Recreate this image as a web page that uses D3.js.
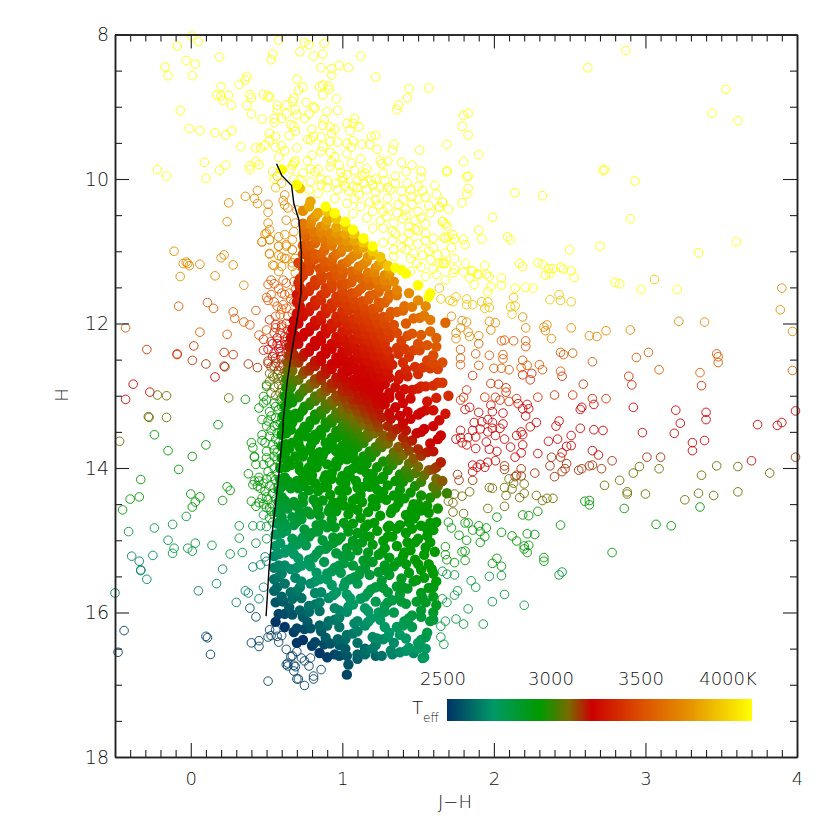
<!DOCTYPE html>
<html><head><meta charset="utf-8"><script src="https://cdn.jsdelivr.net/npm/d3@7"></script>
<style>html,body{margin:0;background:#fff}svg{display:block}text{font-family:"DejaVu Sans",sans-serif;font-weight:200;fill:#111}</style></head>
<body><svg id="c" width="830" height="830"></svg>
<script>
const xTicks=[0,1,2,3,4], yTicks=[8,10,12,14,16,18];
const teffStops=[2500,2730,2950,3000,3100,3230,3530,3790,4140];
const teffFracs=[0,.153,.304,.34,.40,.474,.65,.80,1];
const teffColors=["#003366","#009966","#009900","#2a8a00","#7a6a00","#cc0000","#dd5500","#e69500","#ffff00"];
const barLabels=["2500","3000","3500","4000K"];

const isoJH=[.566,.60,.665,.68,.714,.727,.73,.727,.708,.687,.665,.637,.61,.608,.578,.54,.516,.497];
const isoH=[9.79,9.95,10.09,10.34,10.57,10.95,11.0,11.59,11.86,12.14,12.41,12.79,13.34,13.48,14.16,14.85,15.4,16.05];

const openYellow=[1.69,9.90,1.82,9.97,1.83,10.13,1.82,10.21,1.79,10.33,2.14,10.19,2.32,10.23,2.73,9.87,2.93,10.03,1.66,10.32,1.64,10.39,1.99,10.53,2.90,10.55,1.66,10.59,1.69,10.65,1.90,10.71,1.67,10.81,1.70,10.80,1.73,10.77,1.74,10.83,1.80,10.84,1.81,10.91,1.92,10.83,2.09,10.80,2.11,10.84,3.60,10.87,2.50,10.98,2.70,10.93,3.35,11.02,1.68,11.03,1.66,11.17,1.67,11.17,1.81,11.17,1.94,11.20,2.17,11.17,2.19,11.21,2.29,11.16,2.32,11.18,2.44,11.22,2.36,11.24,2.39,11.24,2.46,11.25,2.51,11.27,2.53,11.36,2.34,11.33,2.37,11.31,1.74,11.25,1.73,11.30,1.80,11.29,1.85,11.27,1.86,11.27,1.84,11.37,1.89,11.32,1.90,11.32,1.95,11.32,1.97,11.35,2.05,11.37,1.87,11.46,1.98,11.49,2.05,11.47,2.14,11.51,2.21,11.50,2.26,11.51,1.96,11.56,2.97,11.53,3.21,11.53,2.80,11.43,2.83,11.45,
.006,8.02,-.09,8.16,.05,8.10,.58,8.08,.75,8.11,.78,8.14,.88,8.12,.72,8.24,.54,8.27,.53,8.35,.81,8.30,.87,8.27,1.12,8.30,.19,8.31,-.17,8.45,-.03,8.36,.03,8.41,-.15,8.57,.01,8.57,.86,8.46,.93,8.47,.98,8.43,1.04,8.46,.93,8.56,1.22,8.59,.37,8.58,.36,8.63,.32,8.69,.70,8.62,.20,8.72,.17,8.84,.20,8.85,.25,8.84,.21,8.91,.27,8.98,.39,8.83,.40,8.88,.37,8.98,.40,9.10,.48,8.83,.51,8.85,.52,8.87,.71,8.77,.74,8.73,.85,8.72,.87,8.70,.91,8.71,.91,8.76,.87,8.84,.96,8.89,1.44,8.75,1.57,8.74,1.43,8.88,1.37,8.98,1.36,9.04,
2.87,8.22,2.62,8.46,3.53,8.76,3.44,9.09,3.61,9.19,1.83,9.09,1.80,9.12,1.79,9.27,1.83,9.39,1.69,9.52,1.90,9.66,1.80,9.76,1.69,9.88,1.83,9.96,2.72,9.88,
-.07,9.05,.57,8.98,.63,8.97,.68,8.88,.67,8.93,.76,8.94,.81,9.0,.82,9.02,.57,9.04,.63,9.10,.69,9.04,.70,9.11,.75,9.16,.78,9.10,.90,9.07,.97,9.05,.55,9.16,.55,9.22,.60,9.16,.47,9.17,.88,9.18,.87,9.26,1.03,9.23,1.08,9.16,1.07,9.23,1.11,9.28,1.05,9.33,-.01,9.30,.06,9.33,.16,9.36,.23,9.39,.27,9.33,.66,9.25,.68,9.27,.69,9.34,.65,9.40,.80,9.31,.92,9.28,.95,9.31,.93,9.37,.52,9.37,.56,9.41,.81,9.41,.77,9.45,.79,9.46,.86,9.42,.92,9.48,.97,9.49,1.07,9.47,1.19,9.41,1.22,9.40,.52,9.46,.49,9.53,.46,9.57,.43,9.57,.33,9.55,.56,9.56,.60,9.54,.62,9.61,.70,9.57,.87,9.55,.86,9.62,1.03,9.51,1.06,9.56,1.13,9.52,1.18,9.52,1.23,9.59,1.34,9.52,1.33,9.60,1.03,9.65,1.51,9.60,.80,9.67,.95,9.69,.92,9.63,1.12,9.72,.58,9.70,.69,9.75,.77,9.75,.93,9.76,1.25,9.74,1.30,9.75,1.26,9.79,1.39,9.77,1.46,9.81,1.06,9.78,.09,9.77,-.22,9.87,-.16,9.96,.10,9.99,.19,9.88,.23,9.81,.39,9.82,.39,9.87,.45,9.80,.43,9.76,.67,9.81,.68,9.78,.66,9.86,.54,9.90,.79,9.86,.84,9.87,.82,9.90,.92,9.83,.98,9.81,1.16,9.85,1.27,9.92,1.52,9.89,1.52,9.98,1.35,9.96,1.03,9.94,.99,9.91,
.68,10.0,.72,10.01,.79,10.04,.55,10.0,.96,10.06,1.07,10.10,1.14,10.06,1.19,10.02,1.20,10.08,1.35,10.06,1.43,10.06,1.39,10.17,1.61,10.09,1.53,10.16,1.62,10.21,.97,10.15,1.04,10.17,1.11,10.22,1.22,10.29,1.30,10.27,1.24,10.36,1.46,10.24,1.46,10.35,1.57,10.37,1.66,10.32,1.64,10.39,.78,10.15,.84,10.20,.95,10.27,1.03,10.34,1.12,10.38,1.36,10.47,1.52,10.54,1.48,10.57,1.58,10.47,1.07,10.48,1.16,10.54,1.29,10.52,1.34,10.61,1.44,10.66,1.66,10.59,1.68,10.62,1.60,10.82,1.68,10.82,1.20,10.68,1.27,10.68,1.35,10.75,1.44,10.75,1.44,10.87,1.27,10.88,1.34,10.98,1.39,10.95,1.47,11.03,1.53,11.05,1.57,11.0,1.63,11.05,1.34,11.07,1.49,11.17,1.64,11.17,1.68,11.17,
.9,10.02,1.0,10.03,1.1,10.02,1.25,10.12,1.32,10.15,1.5,10.28,1.42,10.42,1.55,10.62,1.4,10.55,1.5,10.72,1.55,10.85,1.42,10.98,1.6,11.25,1.58,11.12,1.52,11.22,1.45,11.1,1.72,10.95,1.62,11.32,
1.0,9.98,.86,10.0,1.13,9.96,1.22,10.0,1.28,10.03,1.42,9.9,1.08,9.88,1.15,9.92,.74,9.92,1.3,10.12,1.45,10.15,1.16,10.15,1.08,10.27,1.18,10.32,1.2,10.45,1.3,10.4,1.4,10.28,1.37,10.35,1.5,10.45,1.42,10.5,1.25,10.58,1.33,10.72,1.4,10.82,1.5,10.9,1.33,10.85,1.48,10.7,1.55,10.75,1.6,10.95,1.27,10.45,1.02,10.1,1.1,10.12,.9,10.12,.86,10.08,1.22,10.18,1.55,10.25,1.7,10.42,1.45,11.28,1.55,11.35,1.68,11.4,1.74,11.1,1.5,10.1];

const openYellowOrange=[3.06,11.39,1.64,11.51,1.65,11.66,1.71,11.68,1.73,11.70,1.75,11.63,1.82,11.66,1.82,11.74,1.86,11.74,1.92,11.70,1.96,11.70,1.94,11.79,1.97,11.78,2.13,11.64,2.11,11.77,2.14,11.76,2.12,11.87,2.37,11.67,2.43,11.60,2.44,11.68,2.51,11.70,.57,9.96,.6,10.06,.56,10.12];

const openOrange=[3.90,11.51,1.72,11.90,2.19,11.91,1.79,11.96,1.82,11.98,1.97,11.97,2.01,11.99,1.78,12.06,1.98,12.09,1.75,12.13,1.83,12.12,1.84,12.18,1.75,12.21,1.90,12.17,2.21,12.06,2.35,12.02,2.33,12.05,2.34,12.10,2.51,12.06,2.38,12.21,2.63,12.17,2.68,12.18,2.74,12.10,2.90,12.09,3.22,11.97,3.39,11.98,3.97,12.11,3.89,11.81,
.36,10.24,.44,10.16,.42,10.27,.44,10.34,.25,10.33,.51,10.35,.51,10.46,.24,10.59,.62,10.22,.61,10.30,.62,10.36,.64,10.40,.70,10.43,.63,10.57,.69,10.61,.51,10.61,.50,10.75,.52,10.70,.47,10.87,.52,10.84,.58,10.80,.62,10.77,.67,10.84,.68,10.73,.58,10.93,.52,11.04,.58,11.06,.62,11.10,.67,10.98,.69,11.10,.63,10.93,
-.11,11.00,-.05,11.17,-.03,11.15,-.02,11.17,-.01,11.20,.06,11.18,.20,11.09,.22,11.05,.28,11.19,-.07,11.35,.16,11.34,.35,11.47,.47,10.87,.49,10.76,.52,10.84,.52,11.03,.58,10.93,.63,10.91,.60,11.08,.67,10.98,.63,11.10,.67,11.16,.54,11.19,.58,11.28,.69,11.30,.55,11.20,.60,11.21,.67,11.21];

const openOrangeRed=[1.90,12.28,2.05,12.24,2.07,12.23,2.13,12.24,2.21,12.24,2.21,12.32,1.78,12.36,1.88,12.42,1.97,12.44,2.06,12.43,2.06,12.49,1.78,12.48,1.78,12.57,1.90,12.58,2.19,12.51,2.00,12.62,2.05,12.62,2.10,12.64,2.18,12.61,2.22,12.58,2.30,12.57,2.32,12.64,2.44,12.40,2.46,12.43,2.52,12.41,2.65,12.53,2.44,12.66,2.94,12.47,3.02,12.40,3.09,12.64,3.36,12.68,3.47,12.42,3.48,12.46,3.48,12.54,3.97,12.65,
-.08,11.76,.11,11.71,.15,11.79,.28,11.84,.29,11.93,.43,11.82,.35,11.98,.39,12.02,-.43,12.06,.06,12.12,.24,12.15,.45,12.16,.50,12.09,.53,11.40,.51,11.46,.61,11.40,.63,11.44,.68,11.42,.60,11.58,.50,11.64,.51,11.68,.57,11.76,.65,11.58,.68,11.70,.63,11.79,.67,11.86,.59,11.88,.69,11.53,.61,11.74,
.55,11.45,.58,11.52,.62,11.6,.66,11.66,.55,11.7,.6,11.8,.64,11.9,.56,11.9,.53,11.6];

const openRedOrange=[1.86,12.72,2.19,12.71,2.25,12.69,2.24,12.78,2.45,12.73,2.89,12.73,2.91,12.85,3.37,12.86,2.59,12.84,1.98,12.83,2.03,12.84,2.08,12.89,2.08,12.95,1.82,12.92,1.94,13.02,2.01,13.02,1.80,13.02,1.78,13.06,2.04,13.06,2.10,13.08,2.15,13.04,2.29,13.02,2.40,12.99,2.52,12.99,2.65,13.04,2.74,13.04,
.02,12.31,-.29,12.36,-.09,12.42,-.09,12.43,.01,12.51,.22,12.40,.28,12.43,.48,12.22,.48,12.37,.56,12.01,.60,12.02,.63,12.0,.55,12.13,.59,12.13,.64,12.09,.68,12.04,
.52,11.95,.66,12.12,.6,12.05,.56,12.06,.53,12.25,.69,12.0,.64,12.2];

const openRed=[1.98,13.13,2.16,13.11,2.22,13.12,2.19,13.18,2.23,13.18,2.66,13.12,2.58,13.16,2.57,13.19,2.92,13.16,3.20,13.20,3.40,13.23,3.99,13.21,2.06,13.24,1.90,13.23,1.84,13.16,1.81,13.19,1.99,13.22,2.21,13.28,3.40,13.33,3.23,13.38,3.74,13.40,3.87,13.41,3.90,13.37,2.43,13.35,2.41,13.42,2.57,13.45,2.66,13.47,2.72,13.48,2.98,13.51,3.19,13.52,2.28,13.37,2.24,13.43,2.51,13.55,2.18,13.50,2.15,13.55,2.19,13.54,2.36,13.63,2.42,13.60,2.19,13.68,2.07,13.60,2.11,13.71,2.51,13.69,2.48,13.70,2.45,13.79,2.18,13.79,2.29,13.80,2.14,13.85,2.02,13.77,1.97,13.74,1.88,13.73,1.95,13.64,3.31,13.65,3.39,13.62,3.31,13.76,2.65,13.76,2.69,13.82,3.70,13.90,1.87,13.37,1.92,13.36,1.96,13.33,1.99,13.37,2.06,13.39,2.04,13.45,1.99,13.45,1.96,13.50,1.91,13.46,1.86,13.48,1.78,13.48,2.01,13.55,1.88,13.57,1.83,13.58,1.78,13.58,1.79,13.65,1.82,13.68,1.75,13.60,2.01,13.90,1.96,13.92,1.91,13.95,1.86,13.96,1.89,13.99,1.94,13.99,1.86,14.05,
.16,12.74,-.38,12.84,-.27,12.95,-.43,13.05,.57,12.20,.62,12.18,.67,12.18,.59,12.30,.63,12.30,.68,12.25,.51,12.36,.55,12.41,.59,12.39,.63,12.41,.67,12.34,
.54,12.28,.58,12.35,.62,12.25,.66,12.42,.6,12.45,.54,12.46,.57,12.28,.65,12.27];

const openRedBrown=[2.38,13.85,2.44,13.85,2.48,13.94,2.37,13.97,2.47,14.01,2.45,14.05,2.18,14.01,2.07,13.97,2.07,14.02,2.27,14.07,2.40,14.12,2.15,14.10,2.18,14.11,2.14,14.12,1.86,14.17,1.76,14.09,1.77,14.17,2.56,14.03,2.58,14.01,2.63,13.97,2.65,13.96,2.71,14.01,2.78,13.90,3.01,13.85,3.10,13.85,3.99,13.85,
.10,12.56,.22,12.59,.225,12.6,.38,12.56,.44,12.61,.51,12.55,.56,12.48,.60,12.50,.63,12.52,.51,12.52,.55,12.59,.59,12.59,.62,12.64,.53,12.6,.58,12.65,.64,12.62,.56,12.55,.61,12.58];

const openOlive=[2.96,13.98,2.92,14.07,3.09,14.01,2.83,14.17,2.73,14.24,3.47,13.97,3.61,13.98,3.37,14.10,3.82,14.07,2.20,14.22,2.10,14.15,2.13,14.21,2.07,14.27,2.12,14.29,1.97,14.27,1.99,14.28,2.20,14.35,2.08,14.38,2.17,14.41,1.84,14.33,1.79,14.39,1.74,14.36,1.70,14.46,1.73,14.48,2.28,14.38,2.32,14.45,2.35,14.42,2.39,14.42,2.07,14.53,1.96,14.56,1.73,14.61,1.80,14.63,2.88,14.33,2.88,14.36,3.00,14.36,3.45,14.38,3.61,14.33,3.35,14.35,3.26,14.44,
-.22,12.99,-.16,13.00,-.28,13.29,-.275,13.3,-.16,13.30,.52,12.69,.57,12.71,.60,12.73,.54,12.73,.50,12.85,.52,12.80,.58,12.85,.62,12.82,.59,12.96,.53,12.96,.25,13.03,-.47,13.63,.55,12.75,.61,12.78,.58,12.76,.55,12.88,.6,12.9,.56,13.0,.62,12.95,.6,13.02];

const openGreen=[2.60,14.46,2.63,14.45,2.63,14.51,2.86,14.56,3.36,14.54,3.07,14.78,3.17,14.80,2.29,14.60,2.19,14.65,2.23,14.66,2.02,14.68,2.44,14.79,1.95,14.83,1.90,14.80,1.86,14.86,1.91,14.88,1.94,14.95,1.81,14.76,1.83,14.76,1.70,14.75,1.72,14.83,1.77,14.93,1.82,15.00,1.91,15.03,2.05,14.89,2.12,14.94,2.15,15.01,2.22,14.91,2.27,14.92,2.23,15.07,2.20,15.08,2.20,15.12,2.22,15.17,2.78,15.17,2.33,15.24,2.33,15.29,1.68,15.09,1.68,15.20,1.69,15.27,1.79,15.16,1.81,15.15,1.81,15.28,1.74,15.31,2.02,15.25,1.99,15.32,2.05,15.36,
.36,13.05,.45,13.17,.18,13.40,-.24,13.54,-.15,13.76,.10,13.68,.01,13.84,.40,13.65,.41,13.72,.47,13.54,.47,13.62,.42,13.85,.47,13.33,.50,13.06,.48,13.01,.48,13.10,.50,12.87,.55,13.10,.59,13.06,.58,13.19,.52,13.22,.56,13.31,.51,13.35,.59,13.38,.55,13.42,.50,13.42,.57,13.52,.52,13.56,.49,13.65,.58,13.65,.55,13.75,.50,13.77,.57,13.79,.42,13.84,.50,13.86,.55,13.84,.43,13.95,.51,14.05,.55,14.0,.45,14.18,.48,14.21,.52,14.25,.56,14.16,.49,14.32,.54,14.35,.51,14.44,.54,14.51,-.33,14.16,-.34,14.40,-.40,14.43,-.08,14.02,.00,14.36,.06,14.40,.03,14.47,.24,14.26,.26,14.31,.21,14.45,.40,14.46,.38,14.08,.41,14.23,.42,14.18,.45,14.13,.50,14.55,.53,14.60,.52,14.69,.43,14.53,.45,14.48,.01,14.54,-.45,14.58,
.6,13.15,.56,13.15,.53,13.28,.6,13.3,.57,13.4,.53,13.48,.6,13.5,.56,13.6,.6,13.7,.54,13.68,.57,13.88,.52,13.92,.59,13.95,.48,13.95,.53,14.12,.57,14.08,.5,14.15,.58,14.25,.55,14.28,.5,14.4,.46,14.28,.56,14.43,.48,14.5,.52,14.55,.55,14.65,.47,14.42,.44,14.25,.54,14.75];

const openGreenTeal=[1.66,15.43,1.69,15.47,1.74,15.48,1.97,15.50,2.05,15.49,2.43,15.48,2.45,15.44,1.85,15.56,1.88,15.65,1.76,15.70,1.74,15.76,1.66,15.81,1.69,15.86,2.07,15.75,1.99,15.85,2.20,15.90,1.83,15.95,1.75,16.09,1.68,16.12,1.65,16.19,1.80,16.16,1.93,16.16,1.65,16.34,1.67,16.44,
-.03,14.67,.48,14.65,-.41,14.88,-.24,14.83,-.12,14.78,.32,14.80,.41,14.80,.46,14.80,.50,14.81,-.15,15.00,-.11,15.11,-.12,15.18,-.02,15.11,.01,15.15,.03,15.04,.14,15.07,.32,14.97,.43,15.04,.50,14.98,.26,15.19,.34,15.17];

const openTeal=[-.39,15.22,-.34,15.29,-.25,15.21,-.33,15.41,-.33,15.42,-.29,15.54,.21,15.40,.41,15.37,.46,15.34,.49,15.23,.50,15.29,.17,15.60,.05,15.70,.48,15.65,-.50,15.73,.36,15.70,.38,15.73,.45,15.81,.30,15.86];

const openBlue=[.39,15.94,.43,16.06,-.44,16.25,-.48,16.55,.10,16.33,.11,16.35,.13,16.58,.40,16.42,.45,16.39,.45,16.47,.51,16.95,.52,16.24,.51,16.34,.56,16.24,.57,16.33,.53,16.32,.60,16.32,.58,16.41,.63,16.51,.70,16.54,.66,16.61,.64,16.70,.64,16.74,.68,16.73,.68,16.81,.70,16.92,.67,16.60,.73,16.63,.79,16.63,.63,16.72,.69,16.75,.78,16.74,.86,16.79,.71,16.92,.75,17.01,.81,16.88,.81,16.92,.75,16.67];

const openGroups=[[4140,openYellow],[3950,openYellowOrange],[3750,openOrange],[3550,openOrangeRed],[3400,openRedOrange],[3240,openRed],[3170,openRedBrown],[3085,openOlive],[2950,openGreen],[2820,openGreenTeal],[2680,openTeal],[2530,openBlue]];

const filledTeff=[4140,3950,3850,3750,3680,3600,3550,3500,3460,3420,3380,3340,3300,3270,3245,3230,3220,3195,3160,3120,3070,3020,2980,2960,2955,2950,2950,2950,2950,2945,2920,2895,2870,2840,2810,2780,2750,2730,2700,2670,2640,2610,2575,2540,2510];
const filledStars=[
[.60,9.87,.70,10.08,.89,10.38,.95,10.47,1.02,10.59,1.07,10.70,1.14,10.82,1.20,10.93,1.35,11.23,1.39,11.26,1.42,11.31,1.50,11.47,1.58,11.58,1.57,11.63],
[.72,10.13,.90,10.45,.96,10.55,1.02,10.65,1.08,10.76,1.14,10.88,1.20,11.0,1.25,11.08,1.30,11.2],
[.79,10.31,.78,10.38,.84,10.47,.90,10.57,.96,10.67,1.02,10.76,1.08,10.86,1.14,10.95,1.20,11.05,1.26,11.15,1.32,11.24],
[.74,10.44,.80,10.56,.86,10.66,.92,10.75,.98,10.85,1.04,10.94,1.10,11.04,1.16,11.14,1.22,11.23,1.28,11.33,1.34,11.42,1.44,11.58,1.50,11.68,1.55,11.76],
[.75,10.63,.81,10.73,.87,10.82,.93,10.92,.99,11.01,1.05,11.11,1.11,11.21,1.17,11.30,1.23,11.40,1.29,11.49,1.36,11.61,1.46,11.77,1.54,11.89,1.58,11.95],
[.76,10.8,.82,10.89,.88,10.99,.94,11.08,1.00,11.18,1.06,11.28,1.12,11.37,1.18,11.47,1.24,11.56,1.30,11.66,1.40,11.82,1.47,11.93,1.58,12.11,1.68,11.99],
[.76,10.95,.82,11.04,.88,11.14,.94,11.23,1.0,11.33,1.06,11.43,1.12,11.52,1.18,11.62,1.24,11.71,1.32,11.84,1.42,12.0,1.52,12.16,1.62,12.32],
[.78,11.13,.85,11.24,.92,11.35,.99,11.46,1.06,11.58,1.13,11.69,1.20,11.8,1.27,11.91,1.34,12.02,1.43,12.17,1.50,12.28,1.60,12.44,1.66,12.54],
[.71,11.16,.78,11.27,.86,11.4,.93,11.51,1.01,11.64,1.08,11.75,1.15,11.86,1.23,11.99,1.30,12.1,1.39,12.24,1.47,12.37,1.56,12.51,1.63,12.63],
[.74,11.34,.82,11.47,.89,11.58,.97,11.71,1.04,11.82,1.11,11.94,1.19,12.06,1.26,12.18,1.36,12.34,1.44,12.46,1.53,12.61,1.66,12.82],
[.71,11.44,.78,11.55,.86,11.68,.93,11.79,1.01,11.92,1.08,12.03,1.15,12.14,1.23,12.27,1.3,12.38,1.40,12.54,1.50,12.7,1.6,12.86,1.7,13.0],
[.74,11.62,.82,11.75,.89,11.86,.97,11.99,1.04,12.1,1.11,12.22,1.19,12.34,1.26,12.46,1.33,12.57,1.43,12.73,1.52,12.87,1.62,13.03],
[.70,11.7,.78,11.83,.86,11.96,.93,12.07,1.01,12.2,1.08,12.31,1.15,12.42,1.23,12.55,1.3,12.66,1.37,12.77,1.46,12.92,1.56,13.08,1.68,13.25],
[.70,11.86,.74,11.9,.82,12.03,.89,12.14,.97,12.27,1.04,12.38,1.11,12.5,1.19,12.62,1.26,12.74,1.35,12.88,1.45,13.04,1.55,13.2,1.64,13.34],
[.68,11.96,.71,12.0,.78,12.11,.86,12.24,.93,12.35,1.01,12.48,1.08,12.59,1.15,12.7,1.23,12.83,1.31,12.96,1.40,13.1,1.5,13.26,1.6,13.42],
[.67,12.08,.74,12.18,.82,12.31,.89,12.42,.97,12.55,1.04,12.66,1.11,12.78,1.19,12.9,1.26,13.02,1.35,13.16,1.45,13.32,1.54,13.46,1.63,13.6],
[.66,12.2,.71,12.28,.78,12.39,.86,12.52,.93,12.63,1.01,12.76,1.08,12.87,1.15,12.98,1.23,13.11,1.31,13.24,1.40,13.38,1.49,13.52,1.58,13.66],
[.65,12.32,.74,12.46,.82,12.59,.89,12.7,.97,12.83,1.04,12.94,1.11,13.06,1.19,13.18,1.26,13.3,1.36,13.46,1.46,13.62,1.56,13.78,1.65,13.92],
[.65,12.44,.71,12.54,.78,12.65,.86,12.78,.93,12.89,1.01,13.02,1.08,13.13,1.15,13.24,1.23,13.37,1.33,13.53,1.42,13.67,1.52,13.83,1.62,13.99],
[.64,12.54,.74,12.7,.82,12.83,.89,12.94,.97,13.07,1.04,13.18,1.12,13.31,1.19,13.42,1.27,13.55,1.37,13.71,1.47,13.87,1.57,14.03,1.66,14.18],
[.64,12.66,.71,12.78,.78,12.89,.86,13.02,.93,13.13,1.01,13.26,1.08,13.37,1.17,13.51,1.25,13.64,1.34,13.78,1.44,13.94,1.54,14.1,1.63,14.25],
[.63,12.77,.67,12.83,.74,12.94,.82,13.07,.89,13.18,.97,13.31,1.05,13.44,1.13,13.57,1.22,13.71,1.32,13.87,1.42,14.03,1.52,14.19,1.62,14.35,1.69,14.35],
[.63,12.89,.71,13.02,.78,13.13,.86,13.26,.93,13.37,1.01,13.5,1.09,13.63,1.18,13.77,1.27,13.91,1.38,14.09,1.48,14.25,1.58,14.41],
[.62,13.01,.67,13.09,.74,13.2,.82,13.33,.89,13.44,.97,13.57,1.05,13.7,1.14,13.84,1.23,13.99,1.35,14.18,1.45,14.34,1.56,14.52],
[.62,13.15,.71,13.3,.78,13.41,.86,13.54,.93,13.65,1.02,13.79,1.11,13.94,1.2,14.08,1.3,14.24,1.41,14.42,1.52,14.59,1.62,14.75],
[.61,13.28,.67,13.37,.74,13.48,.82,13.61,.9,13.74,.98,13.87,1.07,14.01,1.17,14.17,1.27,14.33,1.37,14.49,1.48,14.67,1.6,14.86],
[.61,13.42,.71,13.58,.79,13.7,.87,13.83,.96,13.98,1.05,14.12,1.14,14.26,1.24,14.42,1.33,14.57,1.44,14.75,1.56,14.94],
[.6,13.54,.67,13.65,.75,13.78,.84,13.92,.93,14.07,1.02,14.21,1.12,14.37,1.22,14.53,1.38,14.79,1.5,14.98,1.61,15.16],
[.6,13.7,.69,13.84,.78,13.99,.88,14.15,.98,14.31,1.07,14.45,1.17,14.61,1.3,14.82,1.43,15.03,1.54,15.2],
[.6,13.86,.66,13.96,.74,14.08,.82,14.21,.92,14.37,1.01,14.52,1.12,14.69,1.23,14.87,1.36,15.08,1.48,15.27,1.6,15.46],
[.59,14.0,.7,14.18,.78,14.31,.87,14.45,.96,14.6,1.07,14.77,1.18,14.95,1.28,15.11,1.42,15.33,1.54,15.52],
[.59,14.16,.66,14.28,.74,14.4,.84,14.56,.93,14.71,1.04,14.88,1.13,15.03,1.24,15.2,1.34,15.36,1.47,15.57,1.6,15.78],
[.58,14.31,.68,14.47,.79,14.64,.9,14.82,.99,14.96,1.1,15.14,1.2,15.3,1.31,15.48,1.43,15.67,1.55,15.86],
[.58,14.47,.64,14.56,.73,14.71,.84,14.88,.94,15.04,1.05,15.22,1.15,15.38,1.26,15.56,1.38,15.75,1.52,15.97],
[.57,14.61,.68,14.79,.78,14.95,.89,15.12,1.01,15.32,1.11,15.48,1.22,15.65,1.33,15.83,1.46,16.04,1.6,16.1],
[.57,14.77,.63,14.87,.72,15.01,.83,15.19,.95,15.38,1.05,15.54,1.17,15.73,1.28,15.91,1.41,16.12,1.55,16.34],
[.56,14.92,.67,15.09,.78,15.27,.9,15.46,1.01,15.64,1.12,15.81,1.24,16.0,1.36,16.2,1.5,16.42,1.54,16.62],
[.56,15.08,.62,15.17,.73,15.35,.85,15.54,.96,15.72,1.07,15.89,1.19,16.08,1.31,16.28,1.44,16.49],
[.55,15.22,.66,15.4,.79,15.6,.91,15.8,1.03,15.99,1.15,16.18,1.27,16.37,1.38,16.55,1.53,16.63],
[.55,15.38,.6,15.46,.72,15.65,.85,15.86,.98,16.07,1.1,16.26,1.22,16.45,1.33,16.58],
[.55,15.54,.66,15.72,.78,15.91,.91,16.12,1.03,16.31,1.16,16.52,1.26,16.6],
[.55,15.7,.6,15.78,.72,15.97,.85,16.18,.97,16.37,1.1,16.58,1.22,16.6],
[.56,15.86,.67,16.03,.79,16.22,.92,16.43,1.03,16.6,1.04,16.72],
[.58,16.02,.7,16.22,.82,16.41,.95,16.58,1.03,16.86],
[.56,16.13,.62,16.2,.74,16.38,.85,16.56,.7,16.42]];

const infillTeff=[3800,3720,3640,3575,3525,3480,3440,3400,3360,3320,3285,3255,3235,3225,3205,3180,3140,3095,3045,3000,2970,2958,2952,2950,2950,2950,2948,2932,2908,2882,2855,2825,2795,2765,2740,2715,2685,2655,2625,2590,2555,2525];
const infillStars=[
[.82,10.52,.89,10.63,.96,10.75,1.03,10.86,1.10,10.97,1.17,11.08,1.24,11.19,1.31,11.31],
[.79,10.62,.86,10.74,.93,10.85,1.0,10.96,1.07,11.07,1.14,11.18,1.21,11.3,1.28,11.41,1.36,11.54],
[.75,10.7,.82,10.81,.89,10.92,.96,11.04,1.03,11.15,1.10,11.26,1.17,11.37,1.24,11.48,1.31,11.6,1.41,11.76,1.51,11.92],
[.79,10.92,.86,11.04,.93,11.15,1.0,11.26,1.07,11.37,1.14,11.48,1.21,11.6,1.28,11.71,1.36,11.84,1.62,12.2],
[.78,11.02,.82,11.11,.89,11.22,.96,11.34,1.03,11.45,1.10,11.56,1.17,11.67,1.24,11.78,1.31,11.9,1.46,12.14,1.56,12.3],
[.79,11.21,.86,11.33,.93,11.44,1.0,11.55,1.07,11.66,1.14,11.77,1.21,11.89,1.28,12.0,1.36,12.13,1.51,12.37,1.60,12.55],
[.75,11.29,.82,11.4,.89,11.51,.96,11.63,1.03,11.74,1.10,11.85,1.17,11.96,1.24,12.07,1.31,12.19,1.41,12.35,1.58,12.62],
[.72,11.38,.79,11.49,.86,11.61,.93,11.72,1.0,11.83,1.07,11.94,1.14,12.05,1.21,12.17,1.28,12.28,1.37,12.42,1.48,12.6,1.63,12.82],
[.75,11.57,.82,11.68,.89,11.79,.96,11.91,1.03,12.02,1.10,12.13,1.17,12.24,1.24,12.35,1.31,12.47,1.42,12.64,1.55,12.87],
[.72,11.66,.79,11.77,.86,11.89,.93,12.0,1.0,12.11,1.07,12.22,1.14,12.33,1.21,12.45,1.28,12.56,1.38,12.71,1.5,12.9],
[.75,11.85,.82,11.96,.89,12.07,.96,12.19,1.03,12.3,1.10,12.41,1.17,12.52,1.24,12.63,1.31,12.75,1.41,12.91,1.6,13.2],
[.70,11.93,.79,12.05,.86,12.17,.93,12.28,1.0,12.39,1.07,12.5,1.14,12.61,1.21,12.73,1.28,12.84,1.38,13.0,1.52,13.23],
[.75,12.13,.82,12.24,.89,12.35,.96,12.47,1.03,12.58,1.10,12.69,1.17,12.8,1.24,12.91,1.31,13.03,1.43,13.22,1.65,13.55],
[.69,12.17,.79,12.33,.86,12.45,.93,12.56,1.0,12.67,1.07,12.78,1.14,12.89,1.21,13.01,1.28,13.12,1.38,13.28,1.52,13.5],
[.68,12.3,.75,12.41,.82,12.52,.89,12.63,.96,12.75,1.03,12.86,1.10,12.97,1.17,13.08,1.24,13.19,1.32,13.32,1.42,13.48,1.6,13.77],
[.68,12.43,.79,12.6,.86,12.72,.93,12.83,1.0,12.94,1.07,13.05,1.14,13.16,1.21,13.28,1.3,13.42,1.4,13.58,1.5,13.74],
[.67,12.53,.75,12.66,.82,12.77,.89,12.88,.96,13.0,1.03,13.11,1.10,13.22,1.17,13.33,1.24,13.44,1.32,13.57,1.44,13.76,1.6,14.02],
[.67,12.65,.79,12.84,.86,12.96,.93,13.07,1.0,13.18,1.07,13.29,1.14,13.4,1.21,13.52,1.3,13.66,1.4,13.82,1.5,13.98,1.62,14.15],
[.66,12.76,.75,12.9,.82,13.01,.89,13.12,.96,13.24,1.03,13.35,1.10,13.46,1.17,13.57,1.26,13.71,1.37,13.89,1.48,14.07,1.6,14.26],
[.66,12.89,.72,12.98,.79,13.09,.86,13.21,.93,13.32,1.0,13.43,1.07,13.54,1.14,13.65,1.22,13.78,1.33,13.96,1.44,14.13],
[.65,13.0,.75,13.15,.82,13.26,.89,13.37,.96,13.49,1.03,13.6,1.10,13.71,1.19,13.85,1.3,14.03,1.4,14.19,1.52,14.38,1.63,14.56],
[.64,13.12,.72,13.24,.79,13.35,.86,13.47,.93,13.58,1.0,13.69,1.07,13.8,1.16,13.94,1.27,14.12,1.38,14.3,1.5,14.5],
[.64,13.26,.75,13.43,.82,13.54,.89,13.65,.96,13.77,1.03,13.88,1.12,14.02,1.22,14.18,1.34,14.38,1.46,14.57,1.58,14.76],
[.63,13.38,.72,13.52,.80,13.65,.88,13.78,.96,13.91,1.04,14.04,1.18,14.26,1.29,14.44,1.42,14.65,1.52,14.8],
[.63,13.52,.71,13.65,.81,13.81,.9,13.95,1.0,14.11,1.1,14.27,1.2,14.43,1.32,14.62,1.46,14.84,1.58,15.03],
[.63,13.67,.74,13.84,.83,13.99,.93,14.15,1.03,14.31,1.13,14.47,1.25,14.66,1.36,14.84,1.48,15.03],
[.62,13.81,.71,13.96,.8,14.1,.9,14.26,1.0,14.42,1.1,14.58,1.21,14.76,1.33,14.95,1.45,15.14,1.57,15.33],
[.63,13.99,.74,14.16,.84,14.32,.94,14.48,1.04,14.64,1.15,14.82,1.27,15.01,1.4,15.22,1.52,15.41,1.62,15.57],
[.62,14.13,.71,14.28,.81,14.44,.91,14.6,1.01,14.76,1.1,14.9,1.2,15.06,1.31,15.24,1.44,15.45,1.57,15.66],
[.6,14.26,.74,14.48,.85,14.66,.95,14.82,1.07,15.01,1.17,15.17,1.28,15.35,1.39,15.53,1.52,15.73,1.62,15.9],
[.62,14.45,.72,14.61,.83,14.79,.94,14.96,1.03,15.11,1.14,15.28,1.24,15.44,1.36,15.64,1.49,15.85,1.6,16.0],
[.6,14.58,.7,14.74,.8,14.9,.91,15.08,1.0,15.22,1.12,15.42,1.27,15.66,1.39,15.85,1.52,16.06],
[.62,14.77,.74,14.96,.85,15.14,.98,15.35,1.08,15.51,1.19,15.68,1.3,15.86,1.44,16.08,1.56,16.28],
[.6,14.90,.7,15.06,.81,15.24,.93,15.43,1.02,15.58,1.15,15.78,1.28,15.99,1.4,16.18,1.52,16.38],
[.59,15.04,.68,15.19,.79,15.36,.9,15.54,1.03,15.75,1.15,15.94,1.25,16.1,1.38,16.31,1.5,16.5],
[.58,15.19,.7,15.38,.82,15.57,.94,15.76,1.04,15.92,1.17,16.13,1.3,16.34,1.42,16.53],
[.58,15.35,.69,15.52,.82,15.73,.95,15.94,1.08,16.15,1.2,16.34,1.32,16.53],
[.58,15.51,.7,15.7,.82,15.89,.95,16.1,1.07,16.29,1.2,16.5],
[.57,15.65,.67,15.81,.78,15.99,.9,16.18,1.02,16.37,1.15,16.58],
[.61,15.85,.74,16.06,.86,16.26,.98,16.45,1.1,16.64],
[.62,16.02,.75,16.23,.88,16.44,.98,16.6],
[.68,16.27,.8,16.46,.9,16.62]];

const gapTeff=[3600,3550,3500,3440,3360,3290,2955,2950,2950,2948,2910,2870,2825,2785,2735,2695,2645,2590];
const gapStars=[
[.74,10.62,.75,10.78],[.74,10.92],[.74,11.04],[.74,11.22],[.72,11.5],[.72,11.76,.7,11.6],
[.69,13.25,.77,13.44,.85,13.5,.94,13.72,1.08,13.88,1.16,14.07,1.26,14.15,1.36,14.38,1.47,14.5,1.57,14.62],
[.66,13.47,.76,13.56,.85,13.78,.98,13.9,1.09,14.18,1.23,14.3,1.35,14.55,1.47,14.7,1.56,14.85],
[.65,13.73,.72,13.72,.8,13.9,.89,14.1,.99,14.18,1.09,14.42,1.2,14.52,1.31,14.8,1.42,14.9,1.55,15.1],
[.64,13.9,.72,14.03,.77,14.17,.87,14.27,.97,14.48,1.06,14.55,1.17,14.78,1.3,14.95,1.41,15.17,1.5,15.33,1.59,15.4],
[.64,14.18,.74,14.25,.83,14.5,.92,14.55,1.03,14.8,1.15,14.95,1.26,15.17,1.37,15.3,1.49,15.55,1.6,15.65],
[.6,14.4,.7,14.53,.77,14.6,.87,14.78,.97,15.0,1.07,15.06,1.17,15.3,1.29,15.42,1.4,15.65,1.53,15.8],
[.6,14.68,.67,14.68,.75,14.85,.87,15.0,.96,15.18,1.07,15.35,1.18,15.48,1.3,15.72,1.42,15.88,1.58,16.12],
[.6,14.85,.67,14.98,.76,15.07,.88,15.3,.99,15.45,1.1,15.6,1.22,15.85,1.34,16.0,1.46,16.2],
[.63,15.13,.71,15.25,.83,15.45,.93,15.62,1.05,15.8,1.17,15.98,1.28,16.2,1.42,16.36,1.55,16.5],
[.62,15.35,.73,15.57,.86,15.72,.98,15.97,1.1,16.12,1.23,16.36,1.34,16.42,1.47,16.56],
[.62,15.6,.73,15.8,.85,15.98,.98,16.2,1.1,16.42],
[.65,15.93,.77,16.13,.89,16.35,1.02,16.5,1.15,16.5]];

const pairs=a=>{const o=[];for(let i=0;i<a.length;i+=2)o.push([a[i],a[i+1]]);return o;};
const svg=d3.select("#c");
const L=115,R=797,T=34.5,B=757;
const x=d3.scaleLinear().domain([-.5,4]).range([L,R]);
const y=d3.scaleLinear().domain([8,18]).range([T,B]);
const color=d3.scaleLinear().domain(teffStops).range(teffColors);

const dots=svg.append("g");
openGroups.forEach(([t,a])=>{
  dots.append("g").selectAll("circle").data(pairs(a)).join("circle")
   .attr("cx",d=>x(d[0])).attr("cy",d=>y(d[1])).attr("r",4.3)
   .attr("fill","none").attr("stroke",color(t)).attr("stroke-width",.9);
});
const bands=[...filledStars.map((a,i)=>[filledTeff[i],a]),...infillStars.map((a,i)=>[infillTeff[i],a]),...gapStars.map((a,i)=>[gapTeff[i],a])].sort((p,q)=>p[0]-q[0]);
bands.forEach(([t,a])=>{
  dots.append("g").selectAll("circle").data(pairs(a)).join("circle")
   .attr("cx",d=>x(d[0])).attr("cy",d=>y(d[1])).attr("r",5.2).attr("fill",color(t));
});
svg.append("path").datum(d3.zip(isoJH,isoH))
  .attr("d",d3.line().x(d=>x(d[0])).y(d=>y(d[1])).curve(d3.curveLinear))
  .attr("fill","none").attr("stroke","#000").attr("stroke-width",1.4);

const defs=svg.append("defs");
const grad=defs.append("linearGradient").attr("id","bar");
grad.selectAll("stop").data(teffColors).join("stop").attr("offset",(d,i)=>teffFracs[i]).attr("stop-color",d=>d);
svg.append("rect").attr("x",447).attr("y",699).attr("width",305).attr("height",22).attr("fill","url(#bar)");
const barX=[443,551,641,728];
svg.append("g").selectAll("text").data(barLabels).join("text").attr("x",(d,i)=>barX[i]).attr("y",685)
  .attr("text-anchor","middle").attr("font-size",18).text(d=>d);
svg.append("text").attr("x",412).attr("y",714).attr("font-size",18).text("T");
svg.append("text").attr("x",423).attr("y",722).attr("font-size",12).text("eff");

function minor(lo,hi,st,skip){return d3.range(lo,hi+1e-9,st).map(v=>+v.toFixed(2)).filter(v=>!skip.includes(v));}
const xMinor=minor(-.5,4,.1,xTicks), yMinor=minor(8,18,.5,yTicks);
const ax=(gen,tr)=>svg.append("g").attr("transform",tr).call(gen);
function style(g,fs){g.selectAll("path").attr("stroke","#222").attr("stroke-width",1.5);g.selectAll("line").attr("stroke","#222").attr("stroke-width",1.1);g.selectAll("text").attr("font-size",fs).attr("fill","#111").style("font-family",'"DejaVu Sans",sans-serif').style("font-weight",200);}
const fmt=d=>String(d);
style(ax(d3.axisBottom(x).tickValues(xMinor).tickSizeInner(-7).tickSizeOuter(0).tickFormat(""),`translate(0,${B})`),18);
style(ax(d3.axisBottom(x).tickValues(xTicks).tickSizeInner(-14).tickSizeOuter(0).tickPadding(15).tickFormat(fmt),`translate(0,${B})`),18);
style(ax(d3.axisTop(x).tickValues(xMinor).tickSizeInner(-7).tickSizeOuter(0).tickFormat(""),`translate(0,${T})`),18);
style(ax(d3.axisTop(x).tickValues(xTicks).tickSizeInner(-14).tickSizeOuter(0).tickFormat(""),`translate(0,${T})`),18);
style(ax(d3.axisLeft(y).tickValues(yMinor).tickSizeInner(-7).tickSizeOuter(0).tickFormat(""),`translate(${L},0)`),18);
style(ax(d3.axisLeft(y).tickValues(yTicks).tickSizeInner(-14).tickSizeOuter(0).tickPadding(6).tickFormat(fmt),`translate(${L},0)`),19);
style(ax(d3.axisRight(y).tickValues(yMinor).tickSizeInner(-7).tickSizeOuter(0).tickFormat(""),`translate(${R},0)`),18);
style(ax(d3.axisRight(y).tickValues(yTicks).tickSizeInner(-14).tickSizeOuter(0).tickFormat(""),`translate(${R},0)`),18);

svg.append("text").attr("x",455).attr("y",808).attr("text-anchor","middle").attr("font-size",18).text("J\u2212H");
svg.append("text").attr("transform","translate(68,395) rotate(-90)").attr("text-anchor","middle").attr("font-size",18).text("H");
</script></body></html>
